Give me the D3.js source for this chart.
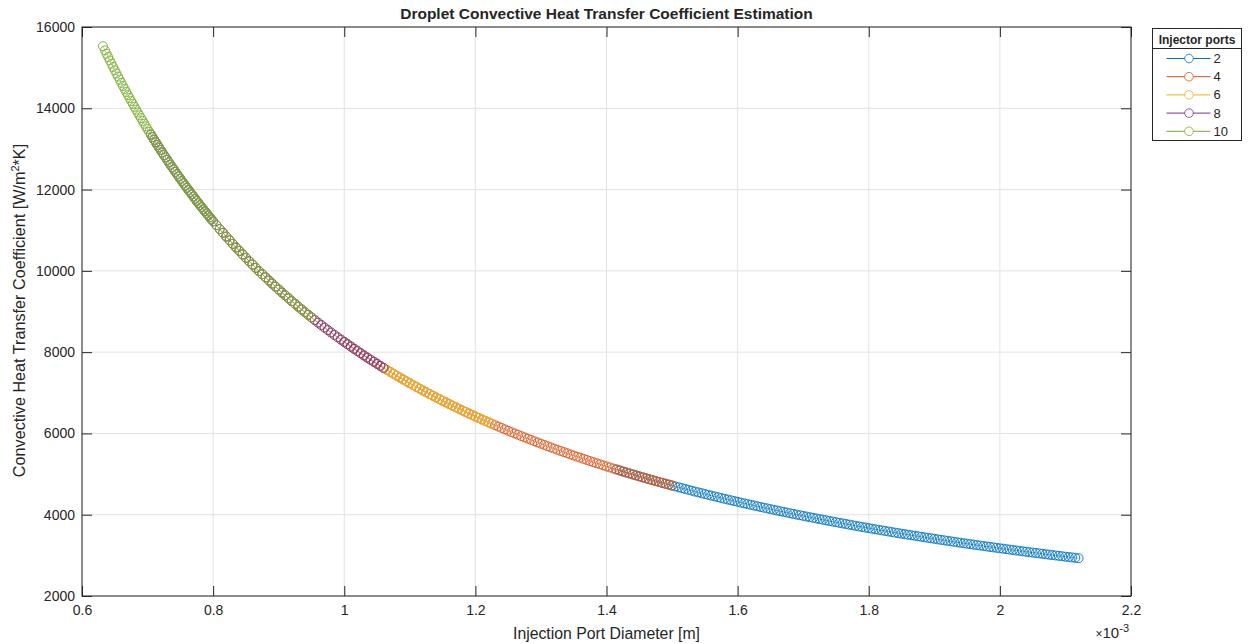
<!DOCTYPE html>
<html>
<head>
<meta charset="utf-8">
<script src="https://cdn.jsdelivr.net/npm/d3@7"></script>
<style>
  body { margin: 0; background: #fff; }
  svg { display: block; }
  text { font-family: "Liberation Sans", Arial, Helvetica, sans-serif; fill: #262626; }
</style>
</head>
<body>
<svg class="chart"></svg>
<script>
// diameter in units of 1e-3 m (as read on the x axis), coefficient in W/m^2*K
const diameter = [
  0.632, 0.635, 0.6375, 0.64, 0.6425, 0.645, 0.6475, 0.65, 0.6525, 0.655, 0.6575, 0.66, 0.6625, 0.665, 0.6675,
  0.67, 0.6725, 0.675, 0.6775, 0.68, 0.6825, 0.685, 0.6875, 0.69, 0.6925, 0.695, 0.6975,
  0.70, 0.7025, 0.705, 0.7075, 0.71, 0.7125, 0.715, 0.7175, 0.72, 0.7225, 0.725, 0.7275, 0.73, 0.7325, 0.735, 0.7375,
  0.74, 0.7425, 0.745, 0.7475, 0.75, 0.7525, 0.755, 0.7575, 0.76, 0.7625, 0.765, 0.7675, 0.77, 0.7725, 0.775, 0.7775,
  0.78, 0.7825, 0.785, 0.7875, 0.79, 0.7925, 0.795, 0.7975,
  0.80, 0.805, 0.81, 0.815, 0.82, 0.825, 0.83, 0.835, 0.84, 0.845, 0.85, 0.855, 0.86, 0.865, 0.87, 0.875, 0.88, 0.885, 0.89, 0.895,
  0.90, 0.905, 0.91, 0.915, 0.92, 0.925, 0.93, 0.935, 0.94, 0.945, 0.95, 0.955, 0.96, 0.965, 0.97, 0.975, 0.98, 0.985, 0.99, 0.995,
  1.00, 1.005, 1.01, 1.015, 1.02, 1.025, 1.03, 1.035, 1.04, 1.045, 1.05, 1.055, 1.06, 1.065, 1.07, 1.075, 1.08, 1.085, 1.09, 1.095,
  1.10, 1.105, 1.11, 1.115, 1.12, 1.125, 1.13, 1.135, 1.14, 1.145, 1.15, 1.155, 1.16, 1.165, 1.17, 1.175, 1.18, 1.185, 1.19, 1.195,
  1.20, 1.205, 1.21, 1.215, 1.22, 1.225, 1.23, 1.235, 1.24, 1.245, 1.25, 1.255, 1.26, 1.265, 1.27, 1.275, 1.28, 1.285, 1.29, 1.295,
  1.30, 1.305, 1.31, 1.315, 1.32, 1.325, 1.33, 1.335, 1.34, 1.345, 1.35, 1.355, 1.36, 1.365, 1.37, 1.375, 1.38, 1.385, 1.39, 1.395,
  1.40, 1.405, 1.41, 1.415, 1.42, 1.425, 1.43, 1.435, 1.44, 1.445, 1.45, 1.455, 1.46, 1.465, 1.47, 1.475, 1.48, 1.485, 1.49, 1.495,
  1.50, 1.505, 1.51, 1.515, 1.52, 1.525, 1.53, 1.535, 1.54, 1.545, 1.55, 1.555, 1.56, 1.565, 1.57, 1.575, 1.58, 1.585, 1.59, 1.595,
  1.60, 1.605, 1.61, 1.615, 1.62, 1.625, 1.63, 1.635, 1.64, 1.645, 1.65, 1.655, 1.66, 1.665, 1.67, 1.675, 1.68, 1.685, 1.69, 1.695,
  1.70, 1.705, 1.71, 1.715, 1.72, 1.725, 1.73, 1.735, 1.74, 1.745, 1.75, 1.755, 1.76, 1.765, 1.77, 1.775, 1.78, 1.785, 1.79, 1.795,
  1.80, 1.805, 1.81, 1.815, 1.82, 1.825, 1.83, 1.835, 1.84, 1.845, 1.85, 1.855, 1.86, 1.865, 1.87, 1.875, 1.88, 1.885, 1.89, 1.895,
  1.90, 1.905, 1.91, 1.915, 1.92, 1.925, 1.93, 1.935, 1.94, 1.945, 1.95, 1.955, 1.96, 1.965, 1.97, 1.975, 1.98, 1.985, 1.99, 1.995,
  2.00, 2.005, 2.01, 2.015, 2.02, 2.025, 2.03, 2.035, 2.04, 2.045, 2.05, 2.055, 2.06, 2.065, 2.07, 2.075, 2.08, 2.085, 2.09, 2.095,
  2.10, 2.105, 2.11, 2.115, 2.12
];
const coefficient = [
  15526, 15425, 15342, 15259, 15178, 15097, 15017, 14937, 14858, 14780, 14703, 14626, 14550, 14475, 14401,
  14327, 14253, 14180, 14108, 14037, 13966, 13895, 13826, 13757, 13689, 13621, 13554,
  13487, 13421, 13355, 13290, 13226, 13162, 13099, 13036, 12974, 12912, 12850, 12790, 12730, 12670, 12611, 12552,
  12494, 12436, 12379, 12322, 12265, 12209, 12153, 12098, 12043, 11989, 11935, 11881, 11828, 11775, 11722, 11669,
  11617, 11566, 11515, 11465, 11415, 11365, 11316, 11267,
  11219, 11123, 11029, 10936, 10844, 10753, 10664, 10576, 10490, 10404, 10320, 10237, 10155, 10074, 9994, 9917, 9840, 9763, 9688, 9614,
  9540, 9467, 9396, 9325, 9255, 9187, 9117, 9050, 8984, 8919, 8854, 8790, 8727, 8666, 8604, 8544, 8483, 8424, 8365, 8308,
  8250, 8194, 8138, 8083, 8028, 7974, 7920, 7868, 7815, 7764, 7713, 7663, 7613, 7564, 7515, 7468, 7420, 7374, 7327, 7281,
  7235, 7190, 7145, 7102, 7058, 7014, 6970, 6928, 6886, 6845, 6804, 6764, 6723, 6684, 6644, 6606, 6567, 6529, 6491, 6454,
  6417, 6380, 6344, 6308, 6273, 6238, 6202, 6168, 6134, 6100, 6066, 6033, 6000, 5968, 5935, 5903, 5871, 5840, 5808, 5778,
  5747, 5717, 5687, 5657, 5627, 5598, 5569, 5540, 5512, 5484, 5456, 5428, 5401, 5374, 5347, 5320, 5293, 5267, 5241, 5215,
  5189, 5164, 5138, 5114, 5089, 5064, 5040, 5016, 4991, 4968, 4944, 4920, 4897, 4874, 4852, 4829, 4806, 4784, 4762, 4740,
  4718, 4696, 4675, 4654, 4633, 4612, 4591, 4570, 4550, 4530, 4510, 4490, 4470, 4450, 4431, 4412, 4392, 4373, 4354, 4336,
  4317, 4298, 4280, 4262, 4244, 4226, 4208, 4190, 4173, 4156, 4138, 4121, 4104, 4087, 4070, 4053, 4036, 4020, 4003, 3987,
  3971, 3955, 3939, 3924, 3908, 3892, 3877, 3862, 3846, 3831, 3816, 3801, 3786, 3772, 3757, 3742, 3727, 3712, 3698, 3684,
  3670, 3656, 3642, 3628, 3615, 3601, 3587, 3574, 3560, 3547, 3534, 3521, 3508, 3495, 3482, 3470, 3457, 3444, 3432, 3420,
  3407, 3394, 3382, 3370, 3358, 3346, 3334, 3322, 3310, 3298, 3287, 3276, 3264, 3252, 3241, 3230, 3218, 3207, 3196, 3185,
  3174, 3163, 3152, 3142, 3131, 3120, 3110, 3100, 3089, 3078, 3068, 3058, 3048, 3038, 3027, 3017, 3007, 2998, 2988, 2978,
  2968, 2958, 2949, 2940, 2930
];

// injector port count and the diameter span each series covers
const ports = [2, 4, 6, 8, 10];
const spanMin = [1.415, 1.00, 0.815, 0.705, 0.632];
const spanMax = [2.12, 1.50, 1.225, 1.06, 0.95];

const xTicks = [0.6, 0.8, 1, 1.2, 1.4, 1.6, 1.8, 2, 2.2];
const yTicks = [2000, 4000, 6000, 8000, 10000, 12000, 14000, 16000];

const colors = ["#0072BD", "#D95319", "#EDB120", "#7E2F8E", "#77AC30"];

const W = 1249, H = 644;
const margin = { top: 27, right: 118, bottom: 48, left: 82 },
      width = W - margin.left - margin.right,
      height = H - margin.top - margin.bottom;

const root = d3.select(".chart").attr("width", W).attr("height", H);
const svg = root.append("g").attr("transform", `translate(${margin.left}, ${margin.top})`);

const x = d3.scaleLinear().domain([0.6, 2.2]).range([0, width]);
const y = d3.scaleLinear().domain([2000, 16000]).range([height, 0]);

// grid
svg.append("g").selectAll("line").data(xTicks).enter().append("line")
    .attr("x1", d => x(d)).attr("x2", d => x(d)).attr("y1", 0).attr("y2", height)
    .attr("stroke", "#e3e3e3");
svg.append("g").selectAll("line").data(yTicks).enter().append("line")
    .attr("x1", 0).attr("x2", width).attr("y1", d => y(d)).attr("y2", d => y(d))
    .attr("stroke", "#e3e3e3");

// series
const points = diameter.map((d, i) => ({ d, h: coefficient[i] }));
const line = d3.line().x(p => x(p.d)).y(p => y(p.h));

ports.forEach((n, k) => {
    const pts = points.filter(p => p.d >= spanMin[k] - 1e-9 && p.d <= spanMax[k] + 1e-9);
    const g = svg.append("g").attr("class", "series");
    g.append("path").datum(pts)
        .attr("d", line).attr("fill", "none")
        .attr("stroke", colors[k]).attr("stroke-width", 0.5);
    g.selectAll("circle").data(pts).enter().append("circle")
        .attr("cx", p => x(p.d)).attr("cy", p => y(p.h)).attr("r", 4.5)
        .attr("fill", "none").attr("stroke", colors[k]).attr("stroke-width", 0.9);
});

// axes, ticks pointing inward
const styleAxis = g => {
    g.select(".domain").remove();
    g.selectAll(".tick line").attr("stroke", "#262626");
    g.selectAll(".tick text").attr("fill", "#262626")
        .style("font-family", '"Liberation Sans", Arial, sans-serif').style("font-size", "14px");
};

svg.append("g").attr("transform", `translate(0, ${height})`)
    .call(d3.axisBottom(x).tickValues(xTicks).tickSize(-10).tickPadding(9).tickFormat(d3.format("")))
    .call(styleAxis);
svg.append("g")
    .call(d3.axisTop(x).tickValues(xTicks).tickSize(-10).tickFormat(""))
    .call(styleAxis);
svg.append("g")
    .call(d3.axisLeft(y).tickValues(yTicks).tickSize(-10).tickPadding(7).tickFormat(d3.format("d")))
    .call(styleAxis);
svg.append("g").attr("transform", `translate(${width}, 0)`)
    .call(d3.axisRight(y).tickValues(yTicks).tickSize(-10).tickFormat(""))
    .call(styleAxis);

svg.append("rect")
    .attr("x", 0).attr("y", 0).attr("width", width).attr("height", height)
    .attr("fill", "none").attr("stroke", "#262626").attr("stroke-width", 1);

// titles
svg.append("text")
    .attr("x", width / 2).attr("y", -8)
    .attr("text-anchor", "middle")
    .style("font-size", "15.5px").style("font-weight", "bold")
    .text("Droplet Convective Heat Transfer Coefficient Estimation");

svg.append("text")
    .attr("x", width / 2).attr("y", height + 43)
    .attr("text-anchor", "middle")
    .style("font-size", "15.8px")
    .text("Injection Port Diameter [m]");

const yl = svg.append("text")
    .attr("transform", `translate(${-57}, ${height / 2 - 1}) rotate(-90)`)
    .attr("text-anchor", "middle")
    .style("font-size", "16.2px");
yl.append("tspan").text("Convective Heat Transfer Coefficient [W/m");
yl.append("tspan").attr("dy", -6).style("font-size", "11px").text("2");
yl.append("tspan").attr("dy", 6).text("*K]");

const ex = svg.append("text")
    .attr("x", width - 2).attr("y", height + 42)
    .attr("text-anchor", "end")
    .style("font-size", "15px");
ex.append("tspan").style("font-size", "12px").text("\u00d7");
ex.append("tspan").text("10");
ex.append("tspan").attr("dy", -6).style("font-size", "11px").text("-3");

// legend
const legend = root.append("g").attr("transform", "translate(1152.5, 28.5)");
legend.append("rect")
    .attr("width", 89).attr("height", 112)
    .attr("fill", "#fff").attr("stroke", "#262626").attr("stroke-width", 1);
legend.append("text")
    .attr("x", 44.5).attr("y", 15)
    .attr("text-anchor", "middle")
    .style("font-size", "12px").style("font-weight", "bold")
    .text("Injector ports");
legend.append("line")
    .attr("x1", 0).attr("x2", 89).attr("y1", 20).attr("y2", 20)
    .attr("stroke", "#262626");

const item = legend.selectAll(".item").data(ports).enter().append("g")
    .attr("class", "item")
    .attr("transform", (d, i) => `translate(0, ${30 + i * 18.2})`);
item.append("line")
    .attr("x1", 14).attr("x2", 58)
    .attr("stroke", (d, i) => colors[i]).attr("stroke-width", 1);
item.append("circle")
    .attr("cx", 36.5).attr("r", 4.3)
    .attr("fill", "#fff").attr("stroke", (d, i) => colors[i]).attr("stroke-width", 0.8);
item.append("text")
    .attr("x", 61).attr("dy", "0.35em")
    .style("font-size", "13px")
    .text(d => d);
</script>
</body>
</html>
